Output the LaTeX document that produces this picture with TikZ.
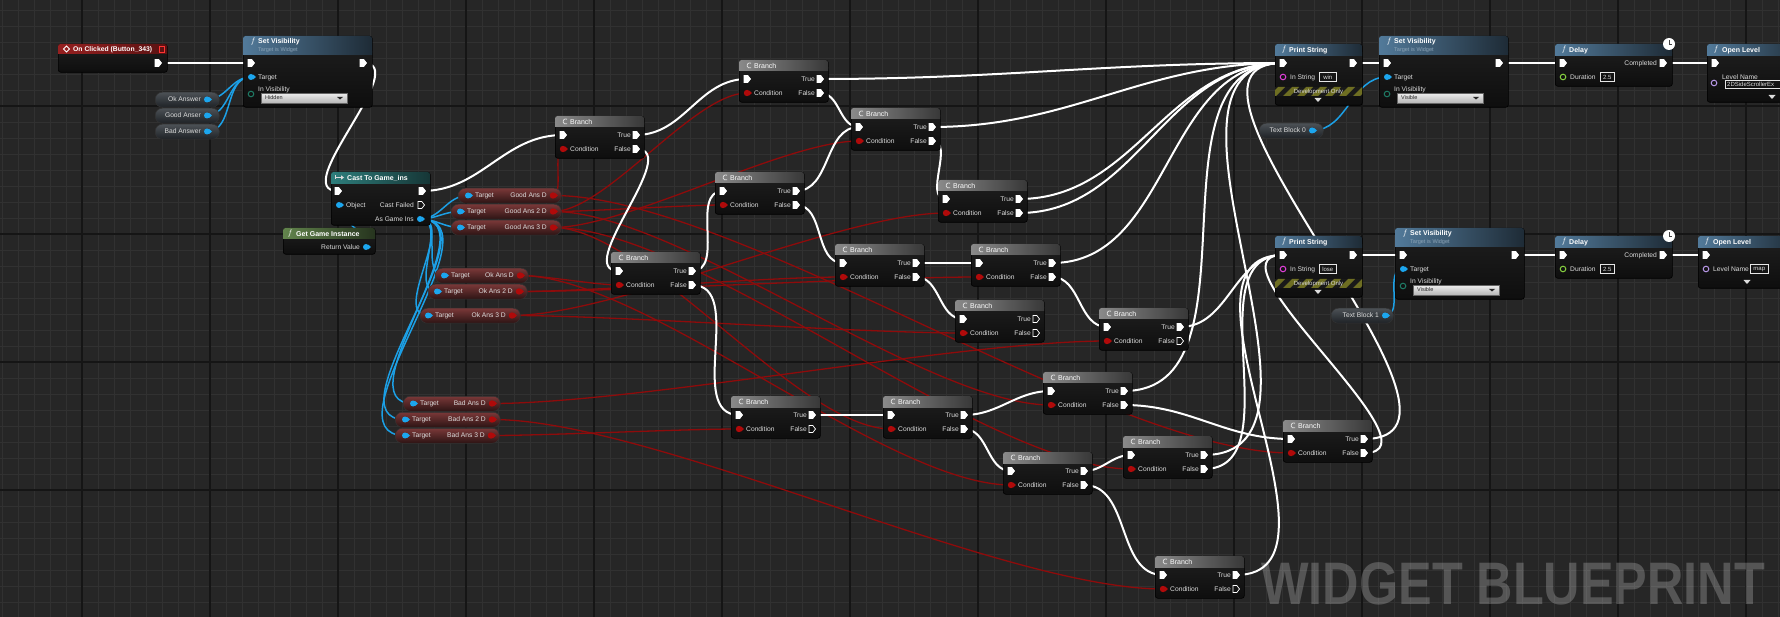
\documentclass[tikz,border=0pt]{standalone}
\usepackage{fontspec}
\setmainfont{Liberation Sans}
\pgfdeclarelayer{background}
\pgfdeclarelayer{wires}
\pgfsetlayers{background,wires,main}
\definecolor{bgc}{HTML}{262626}
\definecolor{gridmin}{HTML}{313131}
\definecolor{gridmaj}{HTML}{151515}
\definecolor{bodyT}{HTML}{1F1F1F}
\definecolor{bodyB}{HTML}{0E0E0E}
\definecolor{brL}{HTML}{8A8A8A}
\definecolor{brR}{HTML}{383838}
\definecolor{fnL}{HTML}{527A9A}
\definecolor{fnR}{HTML}{1E2B36}
\definecolor{evL}{HTML}{962020}
\definecolor{evR}{HTML}{5A1212}
\definecolor{caL}{HTML}{2E7E7C}
\definecolor{caR}{HTML}{163636}
\definecolor{puL}{HTML}{62844C}
\definecolor{puR}{HTML}{26341E}
\definecolor{pillT}{HTML}{7A3838}
\definecolor{pillB}{HTML}{2C1414}
\definecolor{gpillT}{HTML}{4C5156}
\definecolor{gpillB}{HTML}{1E2226}
\definecolor{wred}{HTML}{8E0B0B}
\definecolor{wblue}{HTML}{1CA0E6}
\definecolor{pinred}{HTML}{B00A0A}
\definecolor{pinblue}{HTML}{1CA6EE}
\definecolor{pinmag}{HTML}{E040D8}
\definecolor{pingreen}{HTML}{86D040}
\definecolor{pinlilac}{HTML}{B898E8}
\definecolor{pinteal}{HTML}{1E7A64}
\definecolor{lblc}{HTML}{DCDCDC}
\definecolor{subc}{HTML}{8BA3B6}
\definecolor{stripe}{HTML}{6E6E22}
\definecolor{ddT}{HTML}{EDEDED}
\definecolor{ddB}{HTML}{B4B4B4}
\tikzset{
  nodebody/.style={draw=black, line width=0.6pt, rounded corners=2.5pt, top color=bodyT, bottom color=bodyB, inner sep=0, anchor=north west},
  lbl/.style={font=\fontsize{6.7}{8}\selectfont, text=lblc, inner sep=0, anchor=west, text height=5pt, text depth=0.2pt},
  ttl/.style={font=\fontsize{7}{8}\selectfont\bfseries, text=white, inner sep=0, anchor=west, text height=5.2pt, text depth=0.2pt},
  ttlr/.style={font=\fontsize{7}{8}\selectfont, text=white, inner sep=0, anchor=west, text height=5.2pt, text depth=0.2pt},
  subt/.style={font=\fontsize{5.5}{6}\selectfont, text=subc, inner sep=0, anchor=west},
  fic/.style={font=\fontsize{8.5}{9}\selectfont, text=white, inner sep=0},
  pillred/.style={rounded corners=7pt, top color=pillT, bottom color=pillB, draw=black!80, line width=0.5pt, inner sep=0, anchor=north west},
  pillgray/.style={rounded corners=7pt, top color=gpillT, bottom color=gpillB, draw=black!80, line width=0.5pt, inner sep=0, anchor=north west},
  valbox/.style={draw=lblc!70, line width=0.5pt, inner sep=0, anchor=north west, text=lblc, font=\fontsize{6}{7}\selectfont},
  ddstyle/.style={draw=black!60, line width=0.4pt, top color=ddT, bottom color=ddB, inner sep=0, anchor=north west},
  xw/.style={white, line width=2pt},
  rw/.style={wred, line width=1.3pt, looseness=0.6},
  bw/.style={wblue, line width=1.5pt},
}
\newcommand\nodehdr[6]{%
  \shade[left color=#5, right color=#6, rounded corners=2.5pt] ({#1},{#2}) rectangle ({#1+#3},{#2+#4});
  \shade[left color=#5, right color=#6] ({#1},{#2+#4-3}) rectangle ({#1+#3},{#2+#4});}
\newcommand\expin[3][fill=white]{\path[draw=white, line width=0.7pt, #1] ({#2-3},{#3-3.5}) -- ({#2+0.8},{#3-3.5}) -- ({#2+3.5},{#3}) -- ({#2+0.8},{#3+3.5}) -- ({#2-3},{#3+3.5}) -- cycle;}
\newcommand\objpin[2]{\fill[pinblue] ({#1},{#2}) circle (3pt); \fill[pinblue] ({#1+2.2},{#2-2.4}) -- ({#1+5},{#2}) -- ({#1+2.2},{#2+2.4}) -- cycle;}
\newcommand\boolpin[2]{\fill[pinred] ({#1},{#2}) circle (3.2pt); \fill[pinred] ({#1+2.2},{#2-2.4}) -- ({#1+5},{#2}) -- ({#1+2.2},{#2+2.4}) -- cycle;}
\newcommand\hollowpin[3]{\draw[#1, line width=1pt] ({#2},{#3}) circle (2.8pt);}
\newcommand\expandarrow[2]{\fill[lblc] ({#1-3.5},{#2-2}) -- ({#1+3.5},{#2-2}) -- ({#1},{#2+2}) -- cycle;}
\newcommand\clockicon[3]{\node[circle, fill=white, minimum size=12pt, inner sep=0] (#1) at ({#2},{#3}) {};
  \draw[black!75, line width=0.8pt] ({#2},{#3-3.5}) -- ({#2},{#3}) -- ({#2+3},{#3});}
\newcommand\valuebox[5]{\node[valbox, minimum width=#4pt, minimum height=9pt] (#1) at ({#2},{#3}) {#5};}
\newcommand\dropbox[5]{%
  \node[ddstyle, minimum width=#4pt, minimum height=10pt] (#1) at ({#2},{#3}) {};
  \node[font=\fontsize{5.5}{6}\selectfont, text=black!85, inner sep=0, anchor=west] (#1-t) at ({#2+4},{#3+5}) {#5};
  \fill[black!85] ({#2+#4-10},{#3+4}) -- ({#2+#4-4},{#3+4}) -- ({#2+#4-7},{#3+6.5}) -- cycle;}
\newcommand\devband[4]{%
  \begin{scope}
    \clip ({#2},{#3}) rectangle ({#2+#4},{#3+9});
    \fill[black!90] ({#2},{#3}) rectangle ({#2+#4},{#3+9});
    \foreach \k in {0,...,7} {\fill[stripe] ({#2+\k*14-6},{#3+9}) -- ({#2+\k*14+1},{#3+9}) -- ({#2+\k*14+10},{#3}) -- ({#2+\k*14+3},{#3}) -- cycle;}
  \end{scope}
  \node[font=\fontsize{6}{7}\selectfont, text=lblc, inner sep=0] (#1) at ({#2+#4/2},{#3+4.7}) {Development Only};}
\newcommand\ubranch[5]{%
  \node[nodebody, minimum width=89pt, minimum height=42pt] (#1) at ({#2},{#3}) {};
  \nodehdr{#2}{#3}{89}{11}{brL}{brR}
  \draw[lblc, line width=0.8pt] ({#2+12},{#3+3.2}) arc[start angle=60, end angle=300, radius=2.6pt];
  \node[ttlr] (#1-h) at ({#2+15},{#3+5.8}) {Branch};
  \coordinate (#1-in) at ({#2+8},{#3+19});
  \coordinate (#1-c) at ({#2+8},{#3+33});
  \coordinate (#1-t) at ({#2+81},{#3+19});
  \coordinate (#1-f) at ({#2+81},{#3+33});
  \expin{#2+8}{#3+19}
  \boolpin{#2+8}{#3+33}
  \node[lbl] (#1-cl) at ({#2+15},{#3+33}) {Condition};
  \node[lbl, anchor=east] (#1-tl) at ({#2+76},{#3+19}) {True};
  \node[lbl, anchor=east] (#1-fl) at ({#2+76},{#3+33}) {False};
  \expin[#4]{#2+81}{#3+19}
  \expin[#5]{#2+81}{#3+33}}
\newcommand\setvis[4]{%
  \node[nodebody, minimum width=129pt, minimum height=71pt] (#1) at ({#2},{#3}) {};
  \nodehdr{#2}{#3}{129}{19}{fnL}{fnR}
  \node[fic] (#1-f) at ({#2+10},{#3+5.5}) {$f$};
  \node[ttl] (#1-h) at ({#2+15},{#3+5.5}) {Set Visibility};
  \node[subt] (#1-s) at ({#2+15},{#3+14.5}) {Target is Widget};
  \coordinate (#1-in) at ({#2+8},{#3+27});
  \coordinate (#1-o) at ({#2+120},{#3+27});
  \coordinate (#1-tg) at ({#2+8},{#3+41});
  \expin{#2+8}{#3+27}
  \expin{#2+120}{#3+27}
  \objpin{#2+8}{#3+41}
  \node[lbl] (#1-tl) at ({#2+15},{#3+41}) {Target};
  \node[lbl] (#1-vl) at ({#2+15},{#3+53}) {In Visibility};
  \hollowpin{pinteal}{#2+8}{#3+58}
  \dropbox{#1-dd}{#2+18}{#3+57}{86}{#4}}
\newcommand\printstr[4]{%
  \node[nodebody, minimum width=87pt, minimum height=61pt] (#1) at ({#2},{#3}) {};
  \nodehdr{#2}{#3}{87}{12}{fnL}{fnR}
  \node[fic] (#1-f) at ({#2+9},{#3+6}) {$f$};
  \node[ttl] (#1-h) at ({#2+14},{#3+6}) {Print String};
  \coordinate (#1-in) at ({#2+8},{#3+19});
  \coordinate (#1-o) at ({#2+78},{#3+19});
  \expin{#2+8}{#3+19}
  \expin{#2+78}{#3+19}
  \hollowpin{pinmag}{#2+8}{#3+33}
  \node[lbl] (#1-sl) at ({#2+15},{#3+33}) {In String};
  \valuebox{#1-v}{#2+44}{#3+28.5}{17}{#4}
  \devband{#1-dev}{#2}{#3+43}{87}
  \expandarrow{#2+43}{#3+56}}
\newcommand\delaynode[3]{%
  \node[nodebody, minimum width=117pt, minimum height=42pt] (#1) at ({#2},{#3}) {};
  \nodehdr{#2}{#3}{117}{12}{fnL}{fnR}
  \node[fic] (#1-f) at ({#2+9},{#3+6}) {$f$};
  \node[ttl] (#1-h) at ({#2+14},{#3+6}) {Delay};
  \coordinate (#1-in) at ({#2+8},{#3+19});
  \coordinate (#1-o) at ({#2+108},{#3+19});
  \expin{#2+8}{#3+19}
  \expin{#2+108}{#3+19}
  \node[lbl, anchor=east] (#1-cl) at ({#2+102},{#3+19}) {Completed};
  \hollowpin{pingreen}{#2+8}{#3+33}
  \node[lbl] (#1-dl) at ({#2+15},{#3+33}) {Duration};
  \valuebox{#1-v}{#2+45}{#3+28.5}{14}{2.5}
  \clockicon{#1-clk}{#2+114}{#3}}
\newcommand\bpill[6]{%
  \node[pillred, minimum width=#4pt, minimum height=15pt] (#1) at ({#2},{#3}) {};
  \coordinate (#1-tg) at ({#2+#6},{#3+7.5});
  \coordinate (#1-o) at ({#2+#4-8},{#3+7.5});
  \objpin{#2+#6}{#3+7.5}
  \node[lbl] (#1-tl) at ({#2+#6+7},{#3+7.5}) {Target};
  \node[lbl, anchor=east] (#1-l) at ({#2+#4-14},{#3+7.5}) {#5};
  \boolpin{#2+#4-8}{#3+7.5}}
\newcommand\gpill[6]{%
  \node[pillgray, minimum width=#4pt, minimum height=15pt] (#1) at ({#2},{#3}) {};
  \coordinate (#1-o) at ({#2+#6},{#3+7.5});
  \node[lbl, anchor=east] (#1-l) at ({#2+#6-6},{#3+7.5}) {#5};
  \objpin{#2+#6}{#3+7.5}}
\begin{document}
\begin{tikzpicture}[x=1pt, y=-1pt]
\useasboundingbox (0,0) rectangle (1780,617);
\clip (0,0) rectangle (1780,617);
% ---------- background grid and watermark
\begin{pgfonlayer}{background}
  \fill[bgc] (0,0) rectangle (1780,617);
  \foreach \i in {0,...,111} {\draw[gridmin, line width=0.8pt] ({2+16*\i},0) -- ({2+16*\i},617);}
  \foreach \j in {0,...,38} {\draw[gridmin, line width=0.8pt] (0,{10+16*\j}) -- (1780,{10+16*\j});}
  \foreach \i in {0,...,13} {\draw[gridmaj, line width=1.6pt] ({82+128*\i},0) -- ({82+128*\i},617);}
  \foreach \j in {0,...,3} {\draw[gridmaj, line width=1.6pt] (0,{106+128*\j}) -- (1780,{106+128*\j});}
  \node[anchor=base west, inner sep=0, text=white, text opacity=0.22, font=\fontsize{60}{60}\selectfont\bfseries] (wmark) at (1261,604) {\scalebox{0.84}[1]{WIDGET BLUEPRINT}};
\end{pgfonlayer}
% ---------- On Clicked event
\node[nodebody, minimum width=109pt, minimum height=28pt] (oc) at (58,44) {};
\nodehdr{58}{44}{109}{10}{evL}{evR}
\draw[white, line width=0.8pt] (63.5,49) -- (66.5,46) -- (69.5,49) -- (66.5,52) -- cycle;
\node[ttl, font=\fontsize{6.8}{7}\selectfont\bfseries] (oc-h) at (73,49.3) {On Clicked (Button\_343)};
\draw[red!80!white, line width=0.8pt] (159.5,46.2) rectangle (164,52.2);
\coordinate (oc-o) at (158,63);
\expin{158}{63}
% ---------- first Set Visibility and its widgets
\setvis{sv1}{243}{36}{Hidden}
\gpill{oka}{155}{92}{64}{Ok Answer}{52}
\gpill{gda}{155}{108}{64}{Good Anser}{52}
\gpill{bda}{155}{124}{64}{Bad Answer}{52}
% ---------- Cast To Game_ins
\node[nodebody, minimum width=99pt, minimum height=53pt] (cast) at (331,172) {};
\nodehdr{331}{172}{99}{12}{caL}{caR}
\draw[lblc, line width=0.8pt] (335,175.5) -- (335,179.5) (335,177.5) -- (341.5,177.5);
\fill[lblc] (341,175.3) -- (344,177.5) -- (341,179.7) -- cycle;
\node[ttl] (cast-h) at (347,178) {Cast To Game\_ins};
\coordinate (cast-in) at (338,191);
\coordinate (cast-o) at (422,191);
\coordinate (cast-obj) at (339,205);
\coordinate (cast-as) at (420,219);
\expin{338}{191}
\expin{422}{191}
\objpin{339}{205}
\node[lbl] (cast-ol) at (346,205) {Object};
\node[lbl, anchor=east] (cast-fl) at (414,205) {Cast Failed};
\expin[fill=none]{421}{205}
\node[lbl, anchor=east] (cast-al) at (414,219) {As Game Ins};
\objpin{420}{219}
% ---------- Get Game Instance
\node[nodebody, minimum width=92pt, minimum height=26pt] (ggi) at (283,228) {};
\nodehdr{283}{228}{92}{11}{puL}{puR}
\node[fic] (ggi-f) at (290,233.5) {$f$};
\node[ttl] (ggi-h) at (296,233.8) {Get Game Instance};
\node[lbl, anchor=east] (ggi-l) at (360,247) {Return Value};
\coordinate (ggi-rv) at (366,247);
\objpin{366}{247}
% ---------- boolean variables
\bpill{gad}{458}{188}{103}{Good Ans D}{10}
\bpill{ga2}{451}{204}{110}{Good Ans 2 D}{9}
\bpill{ga3}{451}{220}{110}{Good Ans 3 D}{9}
\bpill{oad}{435}{268}{93}{Ok Ans D}{9}
\bpill{oa2}{428}{284}{99}{Ok Ans 2 D}{9}
\bpill{oa3}{420}{308}{100}{Ok Ans 3 D}{8}
\bpill{bad}{403}{396}{97}{Bad Ans D}{10}
\bpill{ba2}{395}{412}{105}{Bad Ans 2 D}{10}
\bpill{ba3}{395}{428}{104}{Bad Ans 3 D}{10}
% ---------- branches
\ubranch{b1}{555}{116}{fill=white}{fill=white}
\ubranch{b2}{739}{60}{fill=white}{fill=white}
\ubranch{b3}{851}{108}{fill=white}{fill=white}
\ubranch{b4}{715}{172}{fill=white}{fill=white}
\ubranch{b5}{611}{252}{fill=white}{fill=white}
\ubranch{b6}{938}{180}{fill=white}{fill=white}
\ubranch{b7}{835}{244}{fill=white}{fill=white}
\ubranch{b8}{971}{244}{fill=white}{fill=white}
\ubranch{b9}{955}{300}{fill=none}{fill=none}
\ubranch{b10}{1099}{308}{fill=white}{fill=none}
\ubranch{l1}{731}{396}{fill=white}{fill=none}
\ubranch{b12}{883}{396}{fill=white}{fill=white}
\ubranch{b11}{1043}{372}{fill=white}{fill=white}
\ubranch{b13}{1003}{452}{fill=white}{fill=white}
\ubranch{b14}{1123}{436}{fill=white}{fill=white}
\ubranch{b15}{1283}{420}{fill=white}{fill=white}
\ubranch{b16}{1155}{556}{fill=white}{fill=none}
% ---------- win / lose chains
\printstr{ps1}{1275}{44}{win}
\printstr{ps2}{1275}{236}{lose}
\setvis{sv2}{1379}{36}{Visible}
\setvis{sv3}{1395}{228}{Visible}
\gpill{tb0}{1259}{123}{64}{Text Block 0}{53}
\gpill{tb1}{1331}{308}{62}{Text Block 1}{54}
\delaynode{d1}{1555}{44}
\delaynode{d2}{1555}{236}
% Open Level 1
\node[nodebody, minimum width=100pt, minimum height=58pt] (ol1) at (1707,44) {};
\nodehdr{1707}{44}{100}{12}{fnL}{fnR}
\node[fic] (ol1-f) at (1716,50) {$f$};
\node[ttl] (ol1-h) at (1722,50) {Open Level};
\coordinate (ol1-in) at (1715,63);
\expin{1715}{63}
\node[lbl] (ol1-l) at (1722,77) {Level Name};
\hollowpin{pinlilac}{1714}{83}
\node[valbox, minimum width=70pt, minimum height=8pt] (ol1-v) at (1725,80) {};
\node[font=\fontsize{6}{7}\selectfont, text=lblc, inner sep=0, anchor=west] (ol1-vt) at (1727,84) {2DSideScrollerEx};
\expandarrow{1772}{97}
% Open Level 2
\node[nodebody, minimum width=100pt, minimum height=52pt] (ol2) at (1698,236) {};
\nodehdr{1698}{236}{100}{12}{fnL}{fnR}
\node[fic] (ol2-f) at (1707,242) {$f$};
\node[ttl] (ol2-h) at (1713,242) {Open Level};
\coordinate (ol2-in) at (1706,255);
\expin{1706}{255}
\hollowpin{pinlilac}{1706}{269}
\node[lbl] (ol2-l) at (1713,269) {Level Name};
\valuebox{ol2-v}{1750}{264.5}{18}{map}
\expandarrow{1747}{282}
% ---------- wires (drawn beneath the nodes)
\begin{pgfonlayer}{wires}
  % boolean conditions
  \draw[rw] (gad-o) to[out=0,in=180] (b1-c);
  \draw[rw] (gad-o) to[out=0,in=180] (b15-c);
  \draw[rw] (ga2-o) to[out=0,in=180] (b2-c);
  \draw[rw] (ga2-o) to[out=0,in=180] (b4-c);
  \draw[rw] (ga2-o) to[out=0,in=180] (b11-c);
  \draw[rw] (ga3-o) to[out=0,in=180] (b3-c);
  \draw[rw] (ga3-o) to[out=0,in=180] (b12-c);
  \draw[rw] (ga3-o) to[out=0,in=180] (b14-c);
  \draw[rw] (oad-o) to[out=0,in=180] (b5-c);
  \draw[rw] (oad-o) to[out=0,in=180] (b13-c);
  \draw[rw] (oa2-o) to[out=0,in=180] (b7-c);
  \draw[rw] (oa2-o) to[out=0,in=180] (b8-c);
  \draw[rw] (oa3-o) to[out=0,in=180] (b6-c);
  \draw[rw] (oa3-o) to[out=0,in=180] (b9-c);
  \draw[rw] (bad-o) to[out=0,in=180] (b10-c);
  \draw[rw] (ba2-o) to[out=0,in=180] (b16-c);
  \draw[rw] (ba3-o) to[out=0,in=180] (l1-c);
  % object references
  \draw[bw] (oka-o) to[out=0,in=180] (sv1-tg);
  \draw[bw] (gda-o) to[out=0,in=180] (sv1-tg);
  \draw[bw] (bda-o) to[out=0,in=180] (sv1-tg);
  \draw[bw] (ggi-rv) to[out=0,in=180] (cast-obj);
  \foreach \p in {gad,ga2,ga3,oad,oa2,oa3,bad,ba2,ba3} {\draw[bw] (cast-as) to[out=0,in=180] (\p-tg);}
  \draw[bw] (tb0-o) to[out=0,in=180] (sv2-tg);
  \draw[bw] (tb1-o) to[out=0,in=180] (sv3-tg);
  % execution flow
  \draw[xw] (oc-o) to[out=0,in=180] (sv1-in);
  \draw[xw] (sv1-o) to[out=0,in=180] (cast-in);
  \draw[xw] (cast-o) to[out=0,in=180] (b1-in);
  \draw[xw] (b1-t) to[out=0,in=180] (b2-in);
  \draw[xw] (b1-f) to[out=0,in=180] (b5-in);
  \draw[xw] (b2-t) to[out=0,in=180] (ps1-in);
  \draw[xw] (b2-f) to[out=0,in=180] (b3-in);
  \draw[xw] (b3-t) to[out=0,in=180] (ps1-in);
  \draw[xw] (b3-f) to[out=0,in=180] (b6-in);
  \draw[xw] (b4-t) to[out=0,in=180] (b3-in);
  \draw[xw] (b4-f) to[out=0,in=180] (b7-in);
  \draw[xw] (b5-t) to[out=0,in=180] (b4-in);
  \draw[xw] (b5-f) to[out=0,in=180] (l1-in);
  \draw[xw] (b6-t) to[out=0,in=180] (ps1-in);
  \draw[xw] (b6-f) to[out=0,in=180] (ps1-in);
  \draw[xw] (b7-t) to[out=0,in=180] (b8-in);
  \draw[xw] (b7-f) to[out=0,in=180] (b9-in);
  \draw[xw] (b8-t) to[out=0,in=180] (ps1-in);
  \draw[xw] (b8-f) to[out=0,in=180] (b10-in);
  \draw[xw] (b10-t) to[out=0,in=180] (ps2-in);
  \draw[xw] (l1-t) to[out=0,in=180] (b12-in);
  \draw[xw] (b12-t) to[out=0,in=180] (b11-in);
  \draw[xw] (b12-f) to[out=0,in=180] (b13-in);
  \draw[xw] (b11-t) to[out=0,in=180] (ps1-in);
  \draw[xw] (b11-f) to[out=0,in=180] (b15-in);
  \draw[xw] (b13-t) to[out=0,in=180] (b14-in);
  \draw[xw] (b13-f) to[out=0,in=180] (b16-in);
  \draw[xw] (b14-t) to[out=0,in=180] (ps1-in);
  \draw[xw] (b14-f) to[out=0,in=180] (ps2-in);
  \draw[xw] (b15-t) to[out=0,in=180] (ps1-in);
  \draw[xw] (b15-f) to[out=0,in=180] (ps2-in);
  \draw[xw] (b16-t) to[out=0,in=180] (ps2-in);
  \draw[xw] (ps1-o) -- (sv2-in);
  \draw[xw] (sv2-o) -- (d1-in);
  \draw[xw] (d1-o) -- (ol1-in);
  \draw[xw] (ps2-o) -- (sv3-in);
  \draw[xw] (sv3-o) -- (d2-in);
  \draw[xw] (d2-o) -- (ol2-in);
\end{pgfonlayer}
\end{tikzpicture}
\end{document}
